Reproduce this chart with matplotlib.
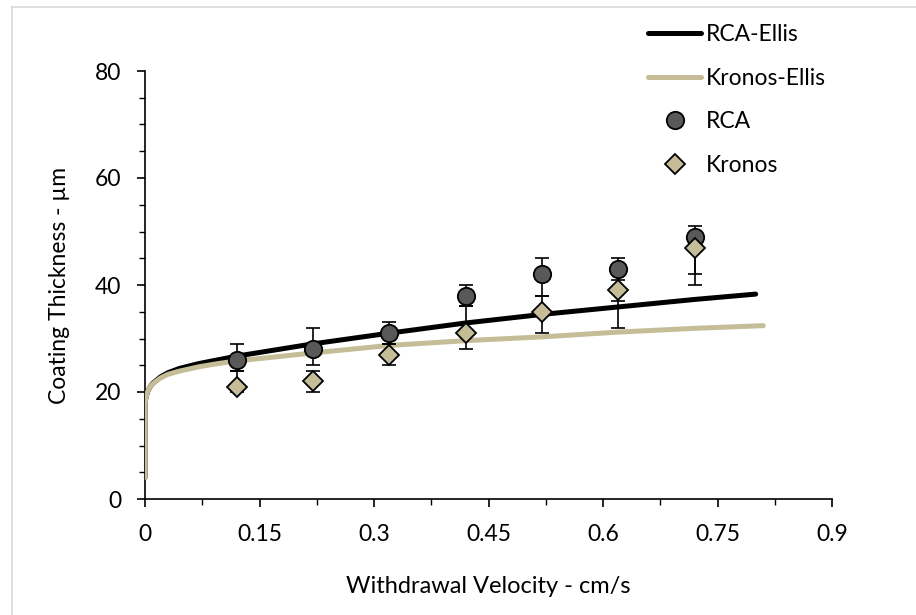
import matplotlib.pyplot as plt
from matplotlib.ticker import MultipleLocator, FuncFormatter
from matplotlib.lines import Line2D

plt.rcParams['font.family'] = ['Lato', 'DejaVu Sans']

# model curves
ellis_v = [0, 0, 0.001, 0.003, 0.006, 0.01, 0.02, 0.03, 0.045, 0.07, 0.095, 0.12, 0.22, 0.32, 0.42, 0.52, 0.62, 0.72, 0.80]
rca_ellis = [4, 17.5, 18.8, 19.9, 20.8, 21.6, 22.8, 23.6, 24.4, 25.3, 26.0, 26.7, 29.0, 31.0, 32.9, 34.5, 35.9, 37.3, 38.3]
kronos_v = [0, 0, 0.001, 0.003, 0.006, 0.01, 0.02, 0.03, 0.045, 0.07, 0.095, 0.12, 0.22, 0.32, 0.42, 0.52, 0.62, 0.72, 0.81]
kronos_ellis = [4, 17.5, 18.8, 19.9, 20.8, 21.5, 22.6, 23.3, 23.9, 24.7, 25.3, 25.8, 27.3, 28.7, 29.6, 30.3, 31.2, 31.9, 32.4]

# measurements
v = [0.12, 0.22, 0.32, 0.42, 0.52, 0.62, 0.72]
rca = [26, 28, 31, 38, 42, 43, 49]
rca_lo = [24, 25, 29, 36, 38, 37, 42]
rca_hi = [29, 32, 33, 40, 45, 45, 51]
kronos = [21, 22, 27, 31, 35, 39, 47]
kronos_lo = [20, 20, 25, 28, 31, 32, 40]
kronos_hi = [24, 24, 29, 36, 38, 41, 48]

tan = '#C4BD97'
fig = plt.figure(figsize=(9.16, 6.15), dpi=100)
ax = fig.add_axes([145/916, 1-499/615, 687/916, 428/615])

# chart area border
fig.add_artist(Line2D([12/916, 12/916], [0, 1-7/615], color='#D9D9D9', lw=1.2))
fig.add_artist(Line2D([12/916, 1], [1-7/615, 1-7/615], color='#D9D9D9', lw=1.2))

ax.plot(ellis_v, rca_ellis, color='black', lw=3.6, solid_capstyle='round', zorder=2)
ax.plot(kronos_v, kronos_ellis, color=tan, lw=3.6, solid_capstyle='round', zorder=3)

err = [[a - b for a, b in zip(rca, rca_lo)], [b - a for a, b in zip(rca, rca_hi)]]
ax.errorbar(v, rca, yerr=err, fmt='none', ecolor='black', elinewidth=1.2, capsize=4.7, capthick=1.2, zorder=4)
err = [[a - b for a, b in zip(kronos, kronos_lo)], [b - a for a, b in zip(kronos, kronos_hi)]]
ax.errorbar(v, kronos, yerr=err, fmt='none', ecolor='black', elinewidth=1.2, capsize=4.7, capthick=1.2, zorder=4)
ax.plot(v, rca, 'o', ms=12.5, mfc='#595959', mec='black', mew=1.3, ls='none', zorder=5)
ax.plot(v, kronos, 'D', ms=10, mfc=tan, mec='black', mew=1.3, ls='none', zorder=6)

ax.set_xlim(0, 0.9)
ax.set_ylim(0, 80)
ax.xaxis.set_major_locator(MultipleLocator(0.15))
ax.xaxis.set_minor_locator(MultipleLocator(0.075))
ax.yaxis.set_major_locator(MultipleLocator(20))
ax.yaxis.set_minor_locator(MultipleLocator(5))
ax.xaxis.set_major_formatter(FuncFormatter(lambda x, p: '%g' % round(x, 3)))
for s in ['top', 'right']:
    ax.spines[s].set_visible(False)
for s in ['left', 'bottom']:
    ax.spines[s].set_linewidth(1.2)
ax.tick_params(which='major', length=6, width=1.2, labelsize=16.5)
ax.tick_params(axis='x', which='major', pad=12)
ax.tick_params(axis='y', which='major', pad=11)
ax.tick_params(which='minor', length=4, width=1.0)
ax.set_xlabel('Withdrawal Velocity - cm/s', fontsize=17, labelpad=22)
ax.set_ylabel('Coating Thickness - µm', fontsize=16.5, labelpad=18)

handles = [
    Line2D([], [], color='black', lw=3.6, solid_capstyle='round'),
    Line2D([], [], color=tan, lw=3.6, solid_capstyle='round'),
    Line2D([], [], marker='o', ms=12.5, mfc='#595959', mec='black', mew=1.3, ls='none'),
    Line2D([], [], marker='D', ms=10, mfc=tan, mec='black', mew=1.3, ls='none'),
]
fig.legend(handles, ['RCA-Ellis', 'Kronos-Ellis', 'RCA', 'Kronos'], loc='upper left',
           bbox_to_anchor=(637/916, 1-13/615), frameon=False, fontsize=16.5,
           handlelength=2.3, handletextpad=0.2, labelspacing=0.98, borderpad=0)

fig.savefig('out.png', dpi=100)
